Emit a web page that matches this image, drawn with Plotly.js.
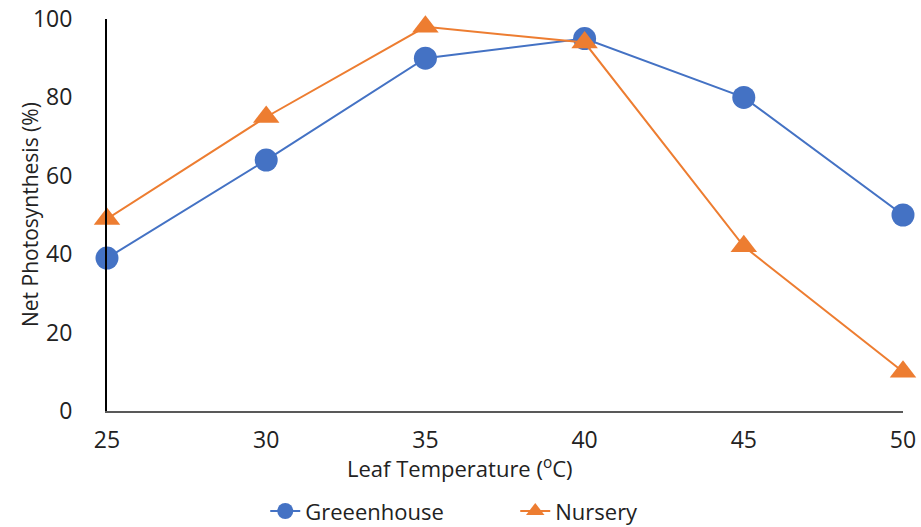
<!DOCTYPE html>
<html>
<head>
<meta charset="utf-8">
<script src="https://cdn.plot.ly/plotly-3.0.1.min.js"></script>
<style>html,body{margin:0;padding:0;background:#fff}#chart{width:921px;height:527px}</style>
</head>
<body>
<div id="chart"></div>
<script>
const temperatures = [25, 30, 35, 40, 45, 50];
const greenhouse = [39, 64, 90, 95, 80, 50];
const nursery = [49, 75, 98, 94, 42, 10];
const seriesNames = ["Greeenhouse", "Nursery"];
const xTitle = "Leaf Temperature (<sup>o</sup>C)";
const yTitle = "Net Photosynthesis (%)";

const FONT = "Open Sans, DejaVu Sans, sans-serif";
const traces = [
  {x: temperatures, y: greenhouse, name: seriesNames[0], type: "scatter", mode: "lines+markers",
   line: {color: "#4472C4", width: 2}, marker: {symbol: "circle", size: 23, color: "#4472C4"}, cliponaxis: false},
  {x: temperatures, y: nursery, name: seriesNames[1], type: "scatter", mode: "lines+markers",
   line: {color: "#ED7D31", width: 2}, marker: {symbol: "triangle-up", size: 23, color: "#ED7D31"}, cliponaxis: false}
];
const layout = {
  width: 921, height: 527,
  margin: {l: 107, r: 18, t: 19, b: 116},
  paper_bgcolor: "#fff", plot_bgcolor: "#fff",
  font: {family: FONT, color: "#222", size: 22},
  xaxis: {range: [25, 50], tickvals: temperatures, ticks: "", showgrid: false, zeroline: false,
    showline: true, linecolor: "#595959", linewidth: 2, automargin: false,
    tickfont: {size: 23, color: "#222"}, ticklabelstandoff: 7},
  yaxis: {range: [0, 100], dtick: 20, ticks: "", showgrid: false, zeroline: false,
    showline: true, linecolor: "#000", linewidth: 2, automargin: false,
    tickfont: {size: 23, color: "#222"}, ticklabelstandoff: 28},
  annotations: [
    {text: yTitle, textangle: -90, xref: "paper", yref: "paper",
     x: -0.0967, y: 0.5, xanchor: "center", yanchor: "middle", showarrow: false,
     font: {size: 21, color: "#222"}},
    {text: xTitle, xref: "paper", yref: "paper",
     x: 0.4435, y: -0.1454, xanchor: "center", yanchor: "middle", showarrow: false,
     font: {size: 22, color: "#222"}}
  ],
  legend: {orientation: "h", x: 0.288, xref: "container", xanchor: "left",
    y: 0.03, yref: "container", yanchor: "middle", entrywidth: 205,
    font: {size: 22, color: "#222"}},
  showlegend: true
};
Plotly.newPlot("chart", traces, layout, {displayModeBar: false, staticPlot: true});
</script>
</body>
</html>
